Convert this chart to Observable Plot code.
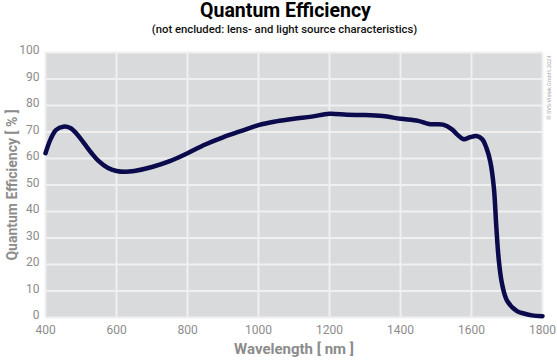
<!DOCTYPE html>
<html>
<head>
<meta charset="utf-8">
<script src="https://cdn.jsdelivr.net/npm/d3@7"></script>
<script src="https://cdn.jsdelivr.net/npm/@observablehq/plot@0.6"></script>
<style>
  body { margin: 0; background: #fff; font-family: Roboto, sans-serif; }
  #wrap { width: 557px; height: 364px; position: relative; }
  #title { position: absolute; top: 0; left: 0; width: 557px; text-align: center; padding-left: 14px; box-sizing: border-box;
           font: bold 19.5px Roboto, sans-serif; color: #000; line-height: 22px; }
  #subtitle { position: absolute; top: 22px; left: 0; width: 557px; text-align: center; padding-left: 12px; box-sizing: border-box;
           font: 500 11.3px Roboto, sans-serif; color: #111; line-height: 16px; }
  #chart { position: absolute; top: 40px; left: 0; }
</style>
</head>
<body>
<div id="wrap">
  <div id="title">Quantum Efficiency</div>
  <div id="subtitle">(not encluded: lens- and light source characteristics)</div>
  <div id="chart"></div>
</div>
<script>
const wavelength = [400, 415, 430, 450, 470, 490, 510, 530, 550, 575, 600, 625, 650, 700, 750, 800, 850, 900, 950, 1000, 1050, 1100, 1150, 1200, 1250, 1300, 1350, 1400, 1450, 1480, 1520, 1545, 1560, 1578, 1595, 1614, 1630, 1642, 1653, 1663, 1670, 1677, 1686, 1700, 1728, 1750, 1770, 1800];
const qe =        [62, 67.5, 70.8, 72, 71.5, 69, 65.5, 62, 59, 56.5, 55.3, 55, 55.3, 56.8, 59, 62, 65.3, 68, 70.3, 72.6, 74, 75, 75.8, 76.9, 76.5, 76.4, 76, 75, 74.2, 73, 72.8, 71, 69, 67.3, 68, 68.5, 67.3, 64, 58.8, 49, 34, 21.5, 12.7, 6.4, 2.4, 1.4, 0.8, 0.5];
const xTicks = [400, 600, 800, 1000, 1200, 1400, 1600, 1800];
const yTicks = [0, 10, 20, 30, 40, 50, 60, 70, 80, 90, 100];
const xLabel = "Wavelength [ nm ]";
const yLabel = "Quantum Efficiency [ % ]";
const copyright = "© SVS-Vistek GmbH, 2024";

const data = wavelength.map((w, i) => ({w, q: qe[i]}));
const gray = "#8c8c8c";

const chart = Plot.plot({
  width: 557,
  height: 324,
  marginTop: 12,
  marginBottom: 47,
  marginLeft: 45,
  marginRight: 15,
  style: {fontFamily: "Roboto, sans-serif", background: "transparent", overflow: "visible"},
  x: {domain: [400, 1800], ticks: xTicks, label: null},
  y: {domain: [0, 100], ticks: yTicks, label: null},
  marks: [
    Plot.frame({fill: "#d9dadc", stroke: null}),
    Plot.ruleX(xTicks, {stroke: "#f0f0f0", strokeWidth: 2}),
    Plot.ruleY(yTicks, {stroke: "#f0f0f0", strokeWidth: 2}),
    Plot.axisX({ticks: xTicks, tickSize: 0, tickPadding: 8, fontSize: 12, fill: gray, label: null, tickFormat: d => String(d)}),
    Plot.axisY({ticks: yTicks, tickSize: 0, tickPadding: 6, fontSize: 12, fill: gray, label: null, dy: -2}),
    Plot.line(data, {x: "w", y: "q", stroke: "#0a0a4c", strokeWidth: 4.5, curve: "catmull-rom", strokeLinejoin: "round", strokeLinecap: "round"}),
    Plot.text([xLabel], {frameAnchor: "bottom", dy: 36, fontSize: 15, fontWeight: "bold", fill: gray, textAnchor: "middle"}),
    Plot.text([yLabel], {frameAnchor: "left", dx: -33, rotate: -90, fontSize: 14, fontWeight: "bold", fill: gray, textAnchor: "middle"}),
    Plot.text([copyright], {frameAnchor: "top-right", dx: 5, dy: 3, rotate: -90, fontSize: 5.5, fill: "#aaa", textAnchor: "end"})
  ]
});
document.getElementById("chart").appendChild(chart);
</script>
</body>
</html>
